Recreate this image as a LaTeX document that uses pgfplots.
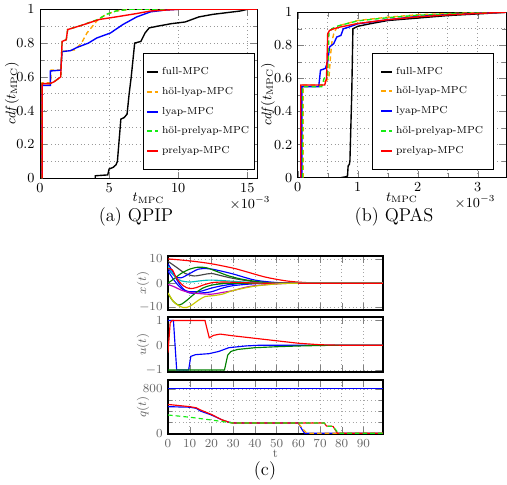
\documentclass[border=0pt]{standalone}
\usepackage{pgfplots}
\pgfplotsset{compat=1.18}
\definecolor{myorange}{RGB}{255,165,0}
\definecolor{mygreen}{RGB}{20,235,20}
\definecolor{mgreen}{RGB}{0,128,0}
\definecolor{mcyan}{RGB}{0,191,191}
\definecolor{mmag}{RGB}{191,0,191}
\definecolor{myel}{RGB}{200,200,0}
\definecolor{mgray}{RGB}{70,70,70}

\pgfplotsset{
  cdfstyle/.style={
    scale only axis,
    ymin=0, ymax=1,
    ytick={0,0.2,0.4,0.6,0.8,1},
    minor ytick={0.1,0.3,0.5,0.7,0.9},
    grid=both,
    grid style={dotted, gray!80},
    tick label style={font=\fontsize{9}{10}\selectfont},
    label style={font=\fontsize{9}{10}\selectfont},
    xlabel={$t_{\mathrm{MPC}}$},
    ylabel={$\mathit{cdf}(t_{\mathrm{MPC}})$},
    legend cell align=left,
    legend style={font=\fontsize{6.6}{7.5}\selectfont, row sep=2.7pt, draw=black, line width=0.6pt},
    legend image code/.code={\draw[#1, line width=1.4pt] (0pt,0pt) -- (7pt,0pt);},
    every axis plot/.append style={line width=0.9pt},
  },
  cstyle/.style={
    scale only axis,
    width=139.75pt,
    xmin=0, xmax=99,
    xtick={0,10,...,90},
    grid=major,
    grid style={dotted, gray!70},
    axis line style={line width=1.3pt},
    tick label style={font=\footnotesize, text=black!60},
    label style={font=\footnotesize, text=black!60},
    ylabel style={at={(rel axis cs:-0.116,0.5)}, anchor=center},
    every axis plot/.append style={line width=0.75pt},
  },
}

\begin{document}
\begin{tikzpicture}
\useasboundingbox (0,0) rectangle (329.55pt,315.25pt);

% (a) QPIP
\begin{axis}[cdfstyle, at={(26pt,199.35pt)}, anchor=south west,
  width=141.05pt, height=109.85pt,
  xmin=0, xmax=15.7, xtick={0,5,10,15},
  xlabel style={at={(rel axis cs:0.5,-0.117)}, anchor=center},
  ylabel style={at={(rel axis cs:-0.129,0.5)}, anchor=center},
  legend style={at={(0.475,0.048)}, anchor=south west, inner xsep=1.6pt, inner ysep=7pt}]
\addplot[black] coordinates {(4.0,0) (4.0,0.015) (4.9,0.02) (5.0,0.055) (5.3,0.065) (5.5,0.08) (5.6,0.1) (5.75,0.25) (5.85,0.35) (6.1,0.36) (6.3,0.38) (6.45,0.5) (6.6,0.6) (6.85,0.8) (7.3,0.81) (7.6,0.86) (7.9,0.89) (8.5,0.9) (9.5,0.915) (10,0.92) (10.5,0.925) (11,0.94) (11.5,0.955) (12.5,0.97) (13.5,0.98) (14.5,0.99) (15,1) (15.7,1)};
\addplot[myorange, dash pattern=on 3pt off 2pt] coordinates {(0.15,0) (0.15,0.565) (0.8,0.565) (0.8,0.64) (1.5,0.64) (1.6,0.75) (2.5,0.76) (3.0,0.8) (3.4,0.86) (3.8,0.9) (4.2,0.94) (4.8,0.97) (5.5,0.99) (6.5,1) (15.7,1)};
\addplot[blue] coordinates {(0.15,0) (0.15,0.55) (0.75,0.55) (0.75,0.635) (1.5,0.64) (1.6,0.75) (2.2,0.755) (2.7,0.775) (3.5,0.8) (4.1,0.83) (5.1,0.86) (6,0.91) (7,0.955) (8,0.985) (9,0.995) (10,1) (15.7,1)};
\addplot[mygreen, dash pattern=on 3pt off 2pt] coordinates {(0.15,0) (0.15,0.56) (0.7,0.56) (1.0,0.57) (1.5,0.6) (1.6,0.81) (1.9,0.82) (2.0,0.88) (3.0,0.905) (3.5,0.92) (4.2,0.94) (4.8,0.97) (5.5,0.99) (6.5,1) (15.7,1)};
\addplot[red] coordinates {(0.15,0) (0.15,0.56) (0.7,0.56) (1.0,0.57) (1.5,0.6) (1.6,0.81) (1.9,0.82) (2.0,0.88) (3.0,0.905) (4.3,0.94) (5.5,0.955) (7,0.975) (8,0.99) (10,1) (15.7,1)};
\legend{full-MPC, höl-lyap-MPC, lyap-MPC, höl-prelyap-MPC, prelyap-MPC}
\end{axis}

% (b) QPAS
\begin{axis}[cdfstyle, at={(193.5pt,199.78pt)}, anchor=south west,
  width=135.4pt, height=107.5pt,
  xmin=0, xmax=3.47, xtick={0,1,2,3}, minor xtick={0.5,1.5,2.5},
  xlabel style={at={(rel axis cs:0.5,-0.121)}, anchor=center},
  ylabel style={at={(rel axis cs:-0.143,0.5)}, anchor=center},
  legend style={at={(0.356,0.048)}, anchor=south west, inner xsep=5pt, inner ysep=7pt}]
\addplot[black] coordinates {(0.72,0) (0.8,0.005) (0.83,0.01) (0.84,0.07) (0.86,0.08) (0.87,0.1) (0.9,0.5) (0.92,0.9) (1.0,0.915) (1.2,0.93) (1.5,0.95) (2.0,0.965) (2.5,0.98) (3.0,0.99) (3.47,1)};
\addplot[myorange, dash pattern=on 3pt off 2pt] coordinates {(0.09,0) (0.09,0.56) (0.4,0.56) (0.45,0.58) (0.52,0.6) (0.55,0.75) (0.57,0.82) (0.6,0.87) (0.64,0.9) (0.7,0.92) (1,0.95) (1.5,0.97) (2,0.985) (2.5,0.992) (3,0.997) (3.47,1)};
\addplot[blue] coordinates {(0.07,0) (0.07,0.55) (0.35,0.55) (0.38,0.65) (0.46,0.66) (0.5,0.7) (0.53,0.79) (0.6,0.81) (0.65,0.85) (0.72,0.86) (0.76,0.9) (0.85,0.91) (1,0.93) (1.5,0.955) (2,0.975) (2.5,0.986) (3,0.994) (3.47,1)};
\addplot[mygreen, dash pattern=on 3pt off 2pt] coordinates {(0.08,0) (0.08,0.55) (0.4,0.55) (0.44,0.6) (0.5,0.62) (0.52,0.88) (0.57,0.9) (0.65,0.915) (1,0.948) (1.5,0.967) (2,0.982) (2.5,0.99) (3,0.996) (3.47,1)};
\addplot[red] coordinates {(0.05,0) (0.05,0.56) (0.45,0.56) (0.48,0.6) (0.5,0.87) (0.53,0.89) (0.6,0.9) (0.7,0.91) (1,0.932) (1.5,0.955) (2,0.972) (2.5,0.984) (3,0.993) (3.47,1)};
\legend{full-MPC, höl-lyap-MPC, lyap-MPC, höl-prelyap-MPC, prelyap-MPC}
\end{axis}

\node[font=\fontsize{9}{10}\selectfont] at (162.5pt,183pt) {$\times10^{-3}$};
\node[font=\fontsize{9}{10}\selectfont] at (308.75pt,184pt) {$\times10^{-3}$};
\node[font=\large] at (88.4pt,174.2pt) {(a) QPIP};
\node[font=\large] at (256.1pt,174.2pt) {(b) QPAS};

% (c) states
\begin{axis}[cstyle, at={(109.2pt,113.75pt)}, anchor=south west, height=35.1pt,
  ymin=-11, ymax=11.2, ytick={-10,0,10}, xticklabels={}, ylabel={$x(t)$}]
\addplot[red, smooth] coordinates {(0,10) (10,9.2) (20,8) (30,6.2) (35,5) (45,2.5) (55,0.9) (65,0.2) (75,0) (99,0)};
\addplot[mgray, smooth] coordinates {(0,9) (4,6.5) (8,4) (12,3) (16,3.5) (20,4) (25,3) (30,2) (40,0.6) (50,0.1) (60,0) (99,0)};
\addplot[blue, smooth] coordinates {(0,6) (3,3) (6,2.2) (10,4) (14,5.8) (18,6) (22,5.5) (30,3.8) (40,1.3) (50,0.3) (60,0) (99,0)};
\addplot[blue, smooth] coordinates {(0,8) (2,5) (5,0) (8,-3) (11,-3.5) (15,-3.3) (20,-2) (25,-1) (30,-0.4) (40,0) (99,0)};
\addplot[blue, smooth] coordinates {(0,5) (3,1) (6,-2) (10,-4) (15,-4) (20,-3.5) (25,-2) (30,-1) (40,-0.2) (50,0) (99,0)};
\addplot[mgreen, smooth] coordinates {(0,0) (3,2) (6,4) (10,5.8) (14,6.6) (18,6.3) (22,5) (28,3) (35,1.5) (45,0.3) (55,0) (99,0)};
\addplot[mgreen, smooth] coordinates {(0,-4) (2,-7) (5,-9) (8,-7.5) (12,-4.5) (16,-2) (20,-0.8) (25,-0.2) (30,0) (99,0)};
\addplot[mcyan, smooth] coordinates {(0,7) (2,4) (4,2) (6,1) (10,0.5) (15,1) (20,1.3) (30,0.8) (40,0.2) (50,0) (99,0)};
\addplot[red, smooth] coordinates {(0,6) (2,5.5) (4,2) (7,-1) (10,-2.2) (13,-1.8) (16,-0.8) (20,0.2) (25,0.5) (30,0.4) (40,0.1) (50,0) (99,0)};
\addplot[mmag, smooth] coordinates {(0,-0.5) (3,-1.5) (6,-2.8) (10,-3.8) (15,-4.3) (20,-4.5) (25,-3.8) (30,-3) (35,-1.8) (40,-1) (50,-0.3) (60,0) (99,0)};
\addplot[myel, smooth] coordinates {(0,-4) (3,-8) (7,-10) (10,-9.5) (14,-7) (17,-5.5) (20,-5.2) (25,-4.5) (30,-3) (40,-1.2) (50,-0.3) (60,0) (99,0)};
\addplot[red] coordinates {(60,0) (99,0)};
\end{axis}

% (c) inputs
\begin{axis}[cstyle, at={(109.2pt,73.45pt)}, anchor=south west, height=35.75pt,
  ymin=-1.08, ymax=1.14, ytick={-1,0,1}, xticklabels={}, ylabel={$u(t)$}]
\addplot[blue] coordinates {(0,1) (2.5,1) (4,-1) (9.5,-1) (10.5,-0.45) (12.7,-0.38) (18.9,-0.34) (23.4,-0.25) (28,-0.1) (35.6,-0.03) (42,0) (99,0)};
\addplot[mgreen] coordinates {(0,-1) (26,-1) (27.5,-0.4) (29,-0.25) (32,-0.17) (40,-0.1) (50,-0.06) (60,-0.03) (70,-0.01) (80,0) (99,0)};
\addplot[red] coordinates {(0,-0.3) (1,0.9) (1.8,1) (17,1) (19,0.3) (21,0.4) (24,0.45) (30,0.38) (40,0.28) (50,0.18) (60,0.08) (70,0.02) (80,0) (99,0)};
\end{axis}

% (c) queue
\begin{axis}[cstyle, at={(109.2pt,33.15pt)}, anchor=south west, height=35.1pt,
  ymin=-12, ymax=960, ytick={0,800}, minor ytick={200,400,600}, grid=both,
  xlabel={t}, xlabel style={at={(rel axis cs:0.5,-0.37)}, anchor=center},
  ylabel={$q(t)$}]
\addplot[blue] coordinates {(0,800) (99,800)};
\addplot[blue] coordinates {(0,480) (10,470) (13,450) (15,400) (20,330) (25,240) (28,200) (30,185) (60,185) (62,50) (63,0) (99,0)};
\addplot[myorange, dash pattern=on 3pt off 2pt] coordinates {(25,240) (28,200) (30,185) (60,185) (62,80) (64,0) (99,0)};
\addplot[red] coordinates {(0,520) (5,500) (10,480) (13,460) (15,420) (20,340) (25,240) (28,200) (30,185) (60,185) (72,185) (73,130) (76,125) (78,0) (99,0)};
\addplot[mygreen, dash pattern=on 3pt off 2pt] coordinates {(0,330) (10,290) (20,240) (28,195) (30,185) (72,185) (73,130) (76,125) (78.5,0) (99,0)};
\end{axis}

\node[font=\large] at (172.25pt,9.1pt) {(c)};
\end{tikzpicture}
\end{document}
